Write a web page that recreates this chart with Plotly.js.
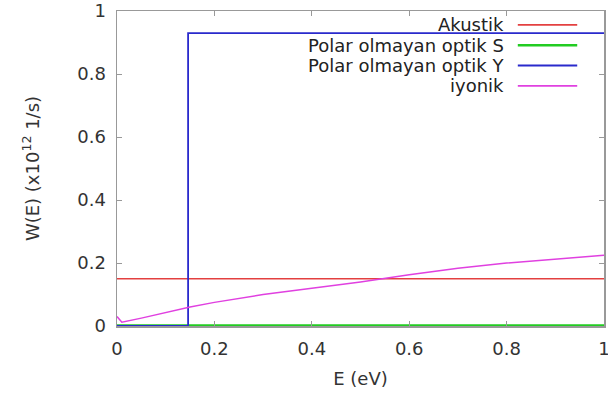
<!DOCTYPE html>
<html><head><meta charset="utf-8">
<script src="https://cdn.plot.ly/plotly-3.0.1.min.js"></script>
<style>body{margin:0;background:#fff}#c{width:608px;height:397px}</style>
</head><body><div id="c"></div>
<script>
const seriesNames = ["Akustik", "Polar olmayan optik S", "Polar olmayan optik Y", "iyonik"];
const seriesColors = ["#e34040", "#22cc22", "#2a2acc", "#e040e0"];
const akustikX = [0, 1];
const akustikY = [0.15, 0.15];
const optikSX = [0, 1];
const optikSY = [0, 0];
const optikYX = [0, 0.146, 0.146, 1];
const optikYY = [0, 0, 0.93, 0.93];
const iyonikX = [0, 0.01, 0.05, 0.1, 0.15, 0.2, 0.3, 0.4, 0.5, 0.6, 0.7, 0.8, 0.9, 1.0];
const iyonikY = [0.03, 0.012, 0.025, 0.043, 0.06, 0.075, 0.1, 0.12, 0.14, 0.163, 0.183, 0.2, 0.212, 0.225];
const xTicks = [0, 0.2, 0.4, 0.6, 0.8, 1];
const yTicks = [0, 0.2, 0.4, 0.6, 0.8, 1];

const xs = [akustikX, optikSX, optikYX, iyonikX];
const ys = [akustikY, optikSY, optikYY, iyonikY];
const widths = [1.5, 3.5, 1.8, 1.5];
const traces = xs.map((x, i) => ({
  x: x, y: ys[i], type: 'scatter', mode: 'lines', name: seriesNames[i],
  line: {color: seriesColors[i], width: widths[i]}, showlegend: false
}));

const fam = 'DejaVu Sans, sans-serif';
const annotations = [];
const shapes = [];
seriesNames.forEach((n, i) => {
  const yp = 0.956 - i * 0.0645;
  annotations.push({xref: 'paper', yref: 'paper', x: 0.799, y: yp, xanchor: 'right', yanchor: 'middle',
    text: n, showarrow: false, font: {family: fam, size: 18, color: '#222'}});
  shapes.push({type: 'line', xref: 'paper', yref: 'paper', x0: 0.823, x1: 0.945, y0: yp, y1: yp,
    line: {color: seriesColors[i], width: widths[i] > 2 ? 2.5 : 1.8}});
});

const layout = {
  width: 608, height: 397,
  margin: {l: 117, r: 4, t: 11, b: 71},
  paper_bgcolor: '#fff', plot_bgcolor: '#fff',
  font: {family: fam, size: 18, color: '#333'},
  xaxis: {range: [0, 1], tickvals: xTicks, ticktext: xTicks.map(String), showgrid: false, zeroline: false,
    showline: true, mirror: 'ticks', linecolor: '#999', linewidth: 1.5, ticks: 'inside', ticklen: 5, tickcolor: '#999',
    ticklabeloverflow: 'allow', ticklabelstandoff: 6,
    tickfont: {family: fam, size: 18, color: '#333'},
    title: {text: 'E (eV)', font: {family: fam, size: 18, color: '#333'}, standoff: 14}},
  yaxis: {range: [0, 1], tickvals: yTicks, ticktext: yTicks.map(String), showgrid: false, zeroline: false,
    showline: true, mirror: 'ticks', linecolor: '#999', linewidth: 1.5, ticks: 'inside', ticklen: 5, tickcolor: '#999',
    ticklabeloverflow: 'allow', ticklabelstandoff: 6,
    tickfont: {family: fam, size: 18, color: '#333'},
    title: {text: 'W(E) (x10<sup>12</sup> 1/s)', font: {family: fam, size: 18, color: '#333'}, standoff: 33}},
  annotations: annotations,
  shapes: shapes,
  showlegend: false
};
Plotly.newPlot('c', traces, layout, {staticPlot: true});
</script></body></html>
